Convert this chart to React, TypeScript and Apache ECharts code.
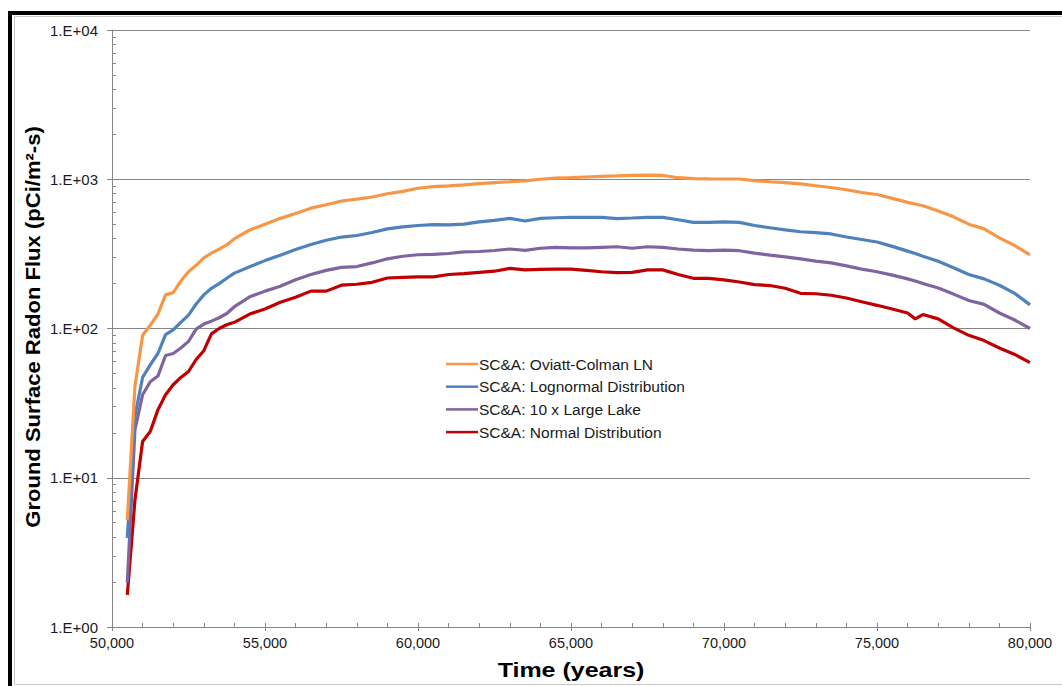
import React, { useEffect, useRef } from "react";
import * as echarts from "echarts";

const times = [
  50500, 50750, 51000, 51250, 51500, 51750, 52000, 52250, 52500, 52750, 53000, 53250, 53500, 53750, 54000,
  54500, 55000, 55500, 56000, 56500, 57000, 57500, 58000, 58500, 59000, 59500, 60000, 60500, 61000, 61500,
  62000, 62500, 63000, 63500, 64000, 64500, 65000, 65500, 66000, 66500, 67000, 67500, 68000, 68500, 69000,
  69500, 70000, 70500, 71000, 71500, 72000, 72500, 73000, 73500, 74000, 74500, 75000, 75500, 76000, 76250,
  76500, 77000, 77500, 78000, 78500, 79000, 79500, 80000,
];

const oviattColman = [
  5.2, 41, 90, 105, 125, 168, 174, 208, 240, 265, 297, 320, 340, 363, 400,
  457, 500, 547, 590, 640, 675, 715, 735, 760, 800, 830, 870, 893, 902, 916,
  935, 950, 962, 975, 1000, 1018, 1025, 1035, 1045, 1052, 1060, 1067, 1060, 1024, 1010,
  1005, 1004, 1004, 980, 962, 950, 930, 905, 880, 850, 815, 790, 745, 700, 682,
  665, 612, 560, 500, 465, 405, 360, 311,
];

const lognormal = [
  3.95, 26, 47, 57, 68, 91, 98, 110, 123, 146, 168, 186, 200, 217, 235,
  259, 285, 310, 338, 365, 390, 410, 420, 440, 465, 480, 490, 497, 495, 500,
  518, 530, 547, 525, 547, 552, 556, 556, 556, 545, 550, 556, 556, 535, 514,
  514, 518, 514, 490, 473, 458, 445, 439, 430, 410, 395, 380, 355, 330, 318,
  305, 282, 255, 230, 215, 195, 172, 144,
];

const largeLake = [
  1.98, 21, 36, 44, 48, 66, 68, 74, 82, 99, 107, 112, 118, 126, 140,
  163, 178, 192, 212, 230, 245, 257, 260, 275, 293, 305, 312, 314, 318, 326,
  328, 333, 341, 334, 345, 350, 347, 347, 350, 353, 345, 353, 350, 341, 335,
  332, 335, 332, 320, 310, 302, 293, 283, 275, 263, 250, 240, 228, 215, 208,
  200, 187, 170, 154, 145, 127, 114, 100,
];

const normalDist = [
  1.64, 7.1, 17.5, 20.4, 28.5, 36, 42, 47, 51.5, 62, 71, 92, 100, 106, 110,
  125, 135, 150, 162, 178, 178, 195, 198, 204, 218, 220, 222, 222, 230, 233,
  238, 242, 253, 247, 249, 250, 250, 245, 240, 237, 238, 247, 247, 230, 217,
  217, 212, 205, 197, 194, 186, 172, 171, 167, 160, 151, 143, 135, 127, 116,
  124, 116, 101, 90, 83, 74, 67, 59,
];

const seriesNames = [
  "SC&A: Oviatt-Colman LN",
  "SC&A: Lognormal Distribution",
  "SC&A: 10 x Large Lake",
  "SC&A: Normal Distribution",
];
const seriesColors = ["#F79646", "#4F81BD", "#8064A2", "#C00000"];
const seriesValues = [oviattColman, lognormal, largeLake, normalDist];

const xMin = 50000;
const xMax = 80000;
const yMin = 1;
const yMax = 10000;
const yTitle = "Ground Surface Radon Flux (pCi/m²-s)";
const xTitle = "Time (years)";

// minor log ticks (positions in log10 space for the helper axis)
const minorLogTicks: number[] = [];
for (let d = 0; d < 4; d++) {
  for (let k = 2; k <= 9; k++) minorLogTicks.push(d + Math.log10(k));
}

const FONT = "'Liberation Sans', Arial, sans-serif";
const AXIS_GRAY = "#868686";

export default function App() {
  const ref = useRef<HTMLDivElement>(null);

  useEffect(() => {
    document.body.style.margin = "0";
    if (!ref.current) return;
    const chart = echarts.init(ref.current, null, { renderer: "svg" });

    const series = seriesNames.map((name, i) => ({
      name,
      type: "line",
      xAxisIndex: 0,
      yAxisIndex: 0,
      data: times.map((t, j) => [t, seriesValues[i][j]]),
      symbol: "none",
      showSymbol: false,
      lineStyle: { color: seriesColors[i], width: 3.2 },
      itemStyle: { color: seriesColors[i] },
      z: 10 - i,
    }));

    chart.setOption({
      animation: false,
      backgroundColor: "#ffffff",
      textStyle: { fontFamily: FONT },
      grid: { left: 112, top: 30, right: 32, bottom: 59, containLabel: false },
      legend: {
        orient: "vertical",
        left: 441,
        top: 351,
        itemWidth: 32,
        itemHeight: 14,
        itemGap: 6.7,
        data: seriesNames.map((n, i) => ({
          name: n,
          icon: "path://M0,6 L32,6 L32,8.5 L0,8.5 Z",
          itemStyle: { color: seriesColors[i] },
        })),
        textStyle: { fontSize: 15.5, color: "#1a1a1a", fontFamily: FONT, padding: [0, 0, 0, -4] },
      },
      xAxis: [
        {
          type: "value",
          min: xMin,
          max: xMax,
          interval: 5000,
          position: "bottom",
          axisLine: { show: true, lineStyle: { color: AXIS_GRAY, width: 1 } },
          axisTick: { show: true, inside: false, length: 4, lineStyle: { color: AXIS_GRAY } },
          splitLine: { show: false },
          axisLabel: {
            margin: 8,
            fontSize: 14.5,
            color: "#1a1a1a",
            fontFamily: FONT,
            formatter: (v: number) => v.toLocaleString("en-US"),
          },
        },
        {
          type: "value",
          min: xMin,
          max: xMax,
          interval: 1000,
          position: "bottom",
          offset: 0,
          axisLine: { show: false },
          axisTick: { show: true, inside: true, length: 4, lineStyle: { color: AXIS_GRAY } },
          splitLine: { show: false },
          axisLabel: { show: false },
        },
      ],
      yAxis: [
        {
          type: "log",
          logBase: 10,
          min: yMin,
          max: yMax,
          position: "left",
          axisLine: { show: true, lineStyle: { color: AXIS_GRAY, width: 1 } },
          axisTick: { show: true, inside: false, length: 5, lineStyle: { color: AXIS_GRAY } },
          splitLine: { show: true, lineStyle: { color: AXIS_GRAY, width: 1 } },
          axisLabel: {
            margin: 14,
            fontSize: 15,
            color: "#1a1a1a",
            fontFamily: FONT,
            formatter: (v: number) => {
              const e = Math.round(Math.log10(v));
              return "1.E+" + String(e).padStart(2, "0");
            },
          },
        },
        {
          type: "value",
          min: 0,
          max: 4,
          position: "left",
          offset: 0,
          axisLine: { show: false },
          axisTick: {
            show: true,
            inside: true,
            length: 4,
            customValues: minorLogTicks,
            lineStyle: { color: AXIS_GRAY },
          },
          splitLine: { show: false },
          axisLabel: { show: false },
        },
      ],
      graphic: [
        {
          type: "rect",
          shape: { x: 10, y: 13, width: 1100, height: 720 },
          style: { fill: "none", stroke: "#000000", lineWidth: 4 },
          silent: true,
        },
        {
          type: "rect",
          shape: { x: 14.5, y: 16.5, width: 1100, height: 668 },
          style: { fill: "none", stroke: "#c8c8c8", lineWidth: 1 },
          silent: true,
        },
        {
          type: "text",
          x: 33,
          y: 327,
          rotation: Math.PI / 2,
          scaleX: 1.05,
          style: {
            text: yTitle,
            fontSize: 21,
            fontWeight: "bold",
            fontFamily: FONT,
            fill: "#000000",
            align: "center",
            verticalAlign: "middle",
          },
        },
        {
          type: "text",
          x: 571,
          y: 670,
          scaleX: 1.25,
          style: {
            text: xTitle,
            fontSize: 20,
            fontWeight: "bold",
            fontFamily: FONT,
            fill: "#000000",
            align: "center",
            verticalAlign: "middle",
          },
        },
      ],
      series,
    });

    return () => chart.dispose();
  }, []);

  return <div ref={ref} style={{ width: 1062, height: 686 }} />;
}
